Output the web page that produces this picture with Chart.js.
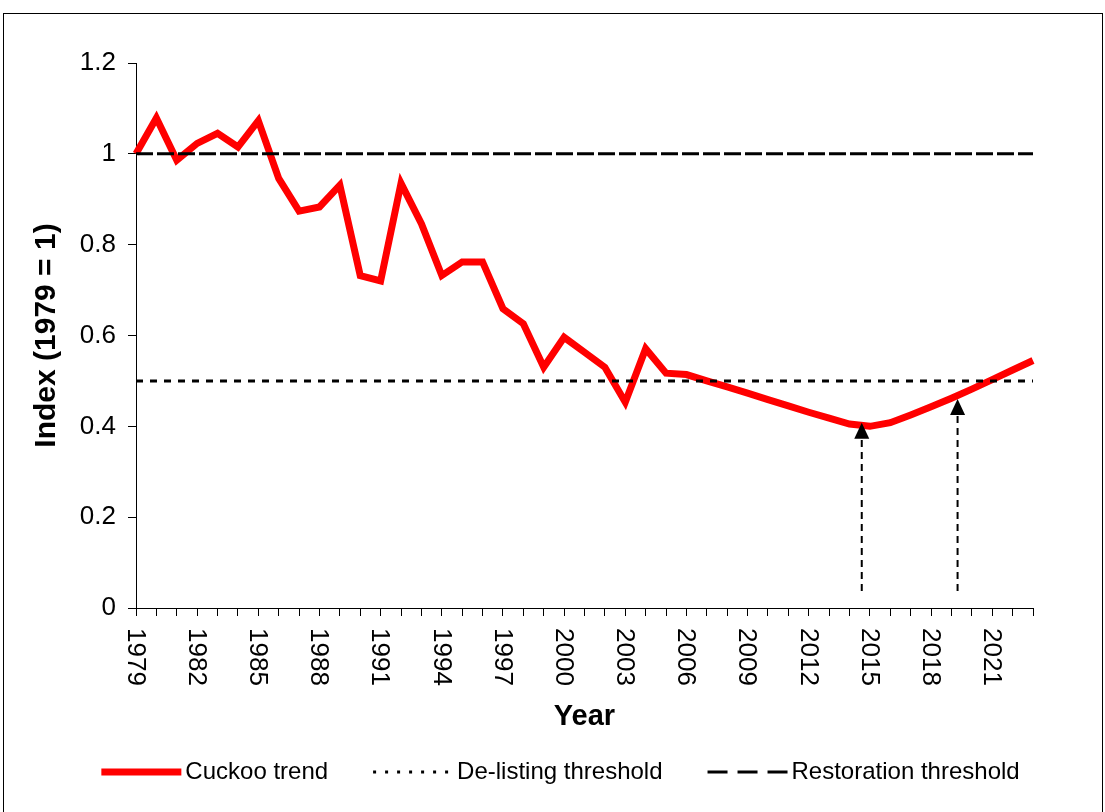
<!DOCTYPE html>
<html>
<head>
<meta charset="utf-8">
<script src="https://cdn.jsdelivr.net/npm/chart.js"></script>
<style>
  body { margin: 0; overflow: hidden; background: #fff; }
  #frame { position: absolute; left: 3px; top: 13px; width: 1098px; height: 830px; border: 1px solid #000; pointer-events: none; }
  #c { position: absolute; left: 0; top: 0; }
</style>
</head>
<body>
<canvas id="c" width="1105" height="812"></canvas>
<div id="frame"></div>
<script>
// data
const years = [];
for (let y = 1979; y <= 2023; y++) years.push(String(y));

const cuckoo = [1.000, 1.079, 0.986, 1.023, 1.045, 1.015, 1.073, 0.946, 0.874, 0.883,
                0.931, 0.732, 0.720, 0.935, 0.846, 0.732, 0.762, 0.762, 0.659, 0.626,
                0.530, 0.596, 0.563, 0.530, 0.453, 0.571, 0.517, 0.514, 0.500, 0.487,
                0.473, 0.459, 0.445, 0.431, 0.418, 0.405, 0.400, 0.408, 0.425, 0.443,
                0.462, 0.482, 0.503, 0.524, 0.545];

const delistingLevel = 0.5;
const restorationLevel = 1.0;

// arrows: year position, tip value, base value
const arrowYears = [2014.6, 2019.3];
const arrowTips = [0.408, 0.460];
const arrowBase = 0.0375;

const yTicks = [0, 0.2, 0.4, 0.6, 0.8, 1, 1.2];

const FONT = "'Liberation Sans', Arial, sans-serif";

// legend entries (own drawing so the samples look like the original)
const legendItems = [
  { text: 'Cuckoo trend', color: '#ff0000', width: 7, dash: [] },
  { text: 'De-listing threshold', color: '#000', width: 3, dash: [3, 9] },
  { text: 'Restoration threshold', color: '#000', width: 3, dash: [20, 10] }
];

const extras = {
  id: 'extras',
  afterDatasetsDraw(chart) {
    const ctx = chart.ctx, xs = chart.scales.x, ys = chart.scales.y;
    ctx.save();
    ctx.strokeStyle = '#000';
    ctx.fillStyle = '#000';
    arrowYears.forEach((yr, i) => {
      const x = xs.getPixelForValue(yr - 1979);
      const tip = ys.getPixelForValue(arrowTips[i]);
      const base = ys.getPixelForValue(arrowBase);
      ctx.lineWidth = 2;
      ctx.setLineDash([7, 5]);
      ctx.beginPath();
      ctx.moveTo(x, base);
      ctx.lineTo(x, tip + 15);
      ctx.stroke();
      ctx.setLineDash([]);
      ctx.beginPath();
      ctx.moveTo(x, tip);
      ctx.lineTo(x - 7.5, tip + 16);
      ctx.lineTo(x + 7.5, tip + 16);
      ctx.closePath();
      ctx.fill();
    });
    ctx.restore();
  },
  afterDraw(chart) {
    const ctx = chart.ctx, xs = chart.scales.x;
    ctx.save();
    // x tick labels, rotated clockwise
    ctx.fillStyle = '#000';
    ctx.font = '26px ' + FONT;
    ctx.textAlign = 'left';
    ctx.textBaseline = 'middle';
    years.forEach((lab, i) => {
      if (i % 3 !== 0) return;
      const x = xs.getPixelForValue(i);
      ctx.save();
      ctx.translate(x - 1, xs.top + 20);
      ctx.rotate(Math.PI / 2);
      ctx.fillText(lab, 0, 0);
      ctx.restore();
    });

    // legend
    ctx.font = '24px ' + FONT;
    const sample = 80, gapIn = 4, gapOut = 45;
    let total = 0;
    legendItems.forEach((it, i) => {
      total += sample + gapIn + ctx.measureText(it.text).width + (i ? gapOut : 0);
    });
    let x = chart.width / 2 + 8 - total / 2;
    const y = 772;
    legendItems.forEach(it => {
      ctx.strokeStyle = it.color;
      ctx.lineWidth = it.width;
      ctx.setLineDash(it.dash);
      ctx.beginPath();
      ctx.moveTo(x, y);
      ctx.lineTo(x + sample, y);
      ctx.stroke();
      ctx.setLineDash([]);
      ctx.fillStyle = '#000';
      ctx.fillText(it.text, x + sample + gapIn, y);
      x += sample + gapIn + ctx.measureText(it.text).width + gapOut;
    });
    ctx.restore();
  }
};

new Chart(document.getElementById('c'), {
  type: 'line',
  data: {
    labels: years,
    datasets: [
      {
        label: 'Cuckoo trend',
        data: cuckoo,
        borderColor: '#ff0000',
        borderWidth: 7,
        pointRadius: 0,
        tension: 0,
        order: 3
      },
      {
        label: 'De-listing threshold',
        data: years.map(() => delistingLevel),
        borderColor: '#000',
        borderWidth: 3,
        borderDash: [7, 7],
        pointRadius: 0,
        order: 1
      },
      {
        label: 'Restoration threshold',
        data: years.map(() => restorationLevel),
        borderColor: '#000',
        borderWidth: 3,
        borderDash: [17, 4],
        pointRadius: 0,
        order: 2
      }
    ]
  },
  options: {
    responsive: false,
    animation: false,
    devicePixelRatio: 1,
    layout: { padding: { left: 0, top: 63, right: 72, bottom: 60 } },
    plugins: { legend: { display: false }, tooltip: { enabled: false } },
    scales: {
      x: {
        type: 'category',
        offset: false,
        grid: { drawOnChartArea: false, drawTicks: true, tickLength: 8, color: '#000' },
        border: { display: true, color: '#000', width: 1 },
        ticks: { display: false },
        title: { display: true, text: 'Year', color: '#000', font: { family: FONT, size: 29, weight: 'bold' }, padding: { top: 0, bottom: 18 } },
        afterFit(s) { s.height = 144; }
      },
      y: {
        min: 0,
        max: 1.2,
        afterBuildTicks(s) { s.ticks = yTicks.map(v => ({ value: v })); },
        grid: { drawOnChartArea: false, drawTicks: true, tickLength: 8, color: '#000' },
        border: { display: true, color: '#000', width: 1 },
        ticks: { color: '#000', padding: 12, font: { family: FONT, size: 26 }, callback: v => String(v) },
        title: { display: true, text: 'Index (1979 = 1)', color: '#000', font: { family: FONT, size: 30, weight: 'bold' }, padding: { top: 29, bottom: 0 } },
        afterFit(s) { s.width = 136; }
      }
    }
  },
  plugins: [extras]
});
</script>
</body>
</html>
